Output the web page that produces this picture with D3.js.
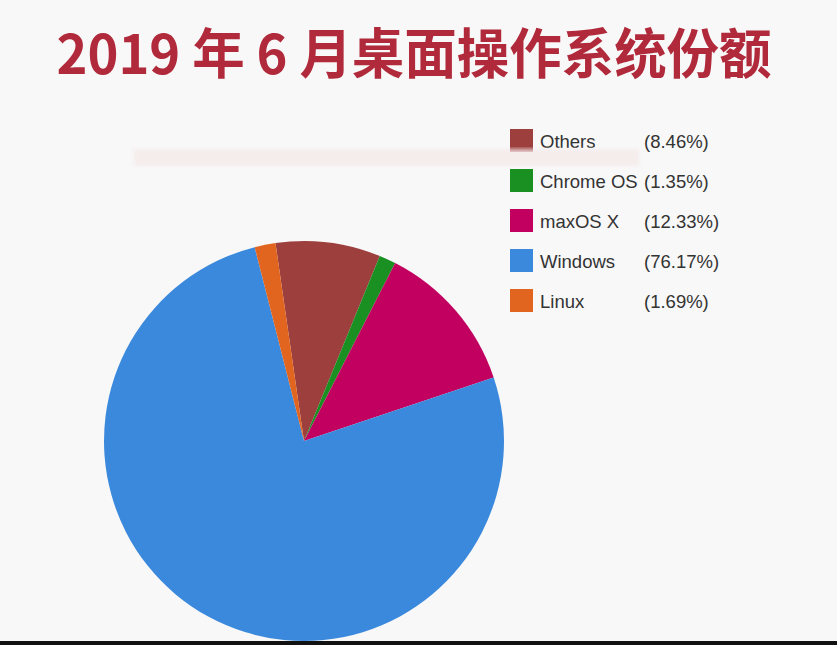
<!DOCTYPE html>
<html>
<head>
<meta charset="utf-8">
<script src="https://cdn.jsdelivr.net/npm/d3@7"></script>
<style>
  body { margin: 0; background: #f8f8f8; }
  svg { display: block; }
</style>
</head>
<body>
<svg></svg>
<script>
var width = 837;
var height = 645;

// data
const names = ["Others", "Chrome OS", "maxOS X", "Windows", "Linux"];
const shares = [8.46, 1.35, 12.33, 76.17, 1.69];
const shareLabels = ["(8.46%)", "(1.35%)", "(12.33%)", "(76.17%)", "(1.69%)"];
const colors = ["#9c3f3d", "#1a8f22", "#c1005f", "#3b89dc", "#e1651f"];

var svg = d3.select("svg").attr("width", width).attr("height", height);

svg.append("rect").attr("width", width).attr("height", height).attr("fill", "#f8f8f8");

// title
svg.append("text")
    .attr("x", 414)
    .attr("y", 74)
    .attr("text-anchor", "middle")
    .attr("textLength", 715)
    .attr("lengthAdjust", "spacingAndGlyphs")
    .style("font-family", "'Noto Sans CJK SC', sans-serif")
    .style("font-weight", "700")
    .style("font-size", "54px")
    .style("fill", "#b12a3b")
    .text("2019 年 6 月桌面操作系统份额");

// pie
var cx = 304, cy = 441, r = 200;
var start = -8.2 * Math.PI / 180;

var pie = d3.pie().sort(null).value(d => d.v)
    .startAngle(start).endAngle(start + 2 * Math.PI);
var arc = d3.arc().innerRadius(0).outerRadius(r);

var rows = names.map((n, i) => ({ name: n, v: shares[i], label: shareLabels[i], color: colors[i] }));

svg.append("g")
    .attr("transform", "translate(" + cx + "," + cy + ")")
    .selectAll("path")
    .data(pie(rows))
    .enter()
    .append("path")
    .attr("d", arc)
    .attr("fill", d => d.data.color);

// legend
var yLegend = d3.scaleBand().domain(names).range([129, 329]).paddingInner(0);

var leg = svg.append("g").selectAll("g")
    .data(rows)
    .enter()
    .append("g")
    .attr("transform", d => "translate(510," + yLegend(d.name) + ")");

leg.append("rect")
    .attr("width", 23)
    .attr("height", 23)
    .attr("fill", d => d.color);

leg.append("text")
    .attr("x", 30)
    .attr("y", 19)
    .style("font-family", "'Liberation Sans', Arial, sans-serif")
    .style("font-size", "18.5px")
    .style("fill", "#333")
    .text(d => d.name);

leg.append("text")
    .attr("x", 134)
    .attr("y", 19)
    .style("font-family", "'Liberation Sans', Arial, sans-serif")
    .style("font-size", "18.5px")
    .style("fill", "#333")
    .text(d => d.label);

// faint blurred band across the top
var defs = svg.append("defs");
defs.append("filter").attr("id", "blur")
    .append("feGaussianBlur").attr("stdDeviation", 2);

svg.append("rect")
    .attr("x", 134)
    .attr("y", 149)
    .attr("width", 505)
    .attr("height", 17)
    .attr("fill", "#f5eaea")
    .attr("opacity", 0.85)
    .attr("filter", "url(#blur)");

// dark strip at the bottom edge
svg.append("rect")
    .attr("x", 0)
    .attr("y", 641)
    .attr("width", width)
    .attr("height", 4)
    .attr("fill", "#111");
</script>
</body>
</html>
